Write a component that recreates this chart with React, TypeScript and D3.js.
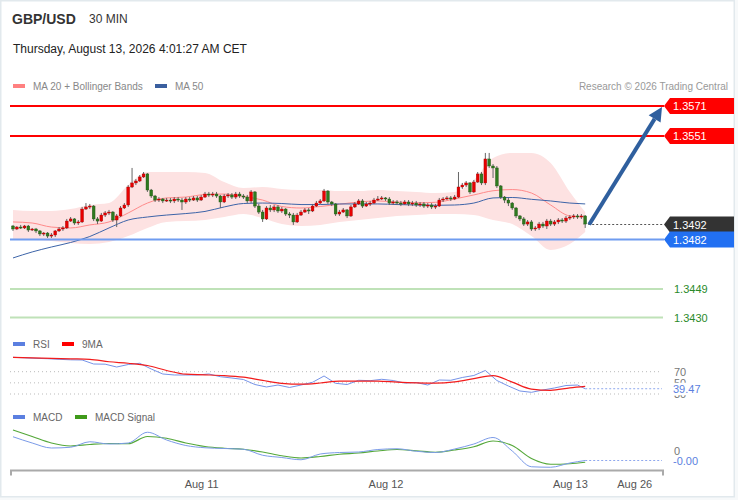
import { useEffect, useRef } from "react";
import * as d3 from "d3";

// GBP/USD 30 min candles (open = previous close)
const firstOpen = 1.3491;
const closes = [
  1.3489, 1.34903, 1.34897, 1.3491, 1.34883, 1.3489, 1.34877, 1.34857, 1.34863, 1.34843,
  1.3485, 1.34877, 1.3489, 1.34897, 1.34943, 1.34957, 1.3493, 1.34937, 1.35023, 1.35037,
  1.35043, 1.34957, 1.34943, 1.34983, 1.34997, 1.35003, 1.3495, 1.34977, 1.3503, 1.3505,
  1.3517, 1.35197, 1.3521, 1.35237, 1.35257, 1.3515, 1.3511, 1.35083, 1.3509, 1.35077,
  1.35083, 1.35077, 1.3509, 1.35083, 1.3507, 1.3509, 1.35083, 1.35097, 1.35083, 1.35103,
  1.35123, 1.35117, 1.35123, 1.3511, 1.3507, 1.3511, 1.35117, 1.35103, 1.35123, 1.3511,
  1.35103, 1.35077, 1.35137, 1.35043, 1.35003, 1.34957, 1.3503, 1.35017, 1.35037, 1.3501,
  1.35023, 1.3499, 1.34983, 1.34937, 1.34983, 1.35003, 1.35017, 1.3501, 1.35043, 1.35063,
  1.35077, 1.35143, 1.3507, 1.35057, 1.3499, 1.35003, 1.35017, 1.34977, 1.35037, 1.35057,
  1.35077, 1.35043, 1.35057, 1.35063, 1.35083, 1.3509, 1.35097, 1.3509, 1.35063, 1.3507,
  1.35063, 1.35057, 1.3507, 1.35057, 1.35063, 1.3505, 1.35057, 1.35043, 1.3505, 1.35037,
  1.35043, 1.35083, 1.3509, 1.35097, 1.3509, 1.35103, 1.3517, 1.35183, 1.35197, 1.35137,
  1.35203, 1.35257, 1.35197, 1.35357, 1.3531, 1.35297, 1.35177, 1.35103, 1.35083, 1.35063,
  1.3503, 1.34977, 1.34957, 1.34923, 1.34937, 1.3489, 1.34897, 1.34923, 1.3491, 1.34943,
  1.34923, 1.34937, 1.3495, 1.34943, 1.34963, 1.3497, 1.34977, 1.3497, 1.34977, 1.34923,
];
const highs = [
  1.34917, 1.3491, 1.34917, 1.34917, 1.34917, 1.34897, 1.34897, 1.34883, 1.3487, 1.3487,
  1.34863, 1.34883, 1.34903, 1.3491, 1.34957, 1.3497, 1.34963, 1.3495, 1.35037, 1.35063,
  1.35057, 1.3505, 1.3497, 1.34997, 1.3501, 1.35017, 1.3501, 1.3499, 1.35043, 1.35063,
  1.35183, 1.35297, 1.35223, 1.3525, 1.3527, 1.35263, 1.35157, 1.35117, 1.35103, 1.35097,
  1.35097, 1.35097, 1.35103, 1.35103, 1.35097, 1.35103, 1.35103, 1.3511, 1.3511, 1.35117,
  1.35137, 1.35137, 1.35137, 1.35137, 1.35117, 1.35123, 1.3513, 1.3513, 1.35137, 1.35137,
  1.35123, 1.35117, 1.3515, 1.35143, 1.35057, 1.35017, 1.35043, 1.3505, 1.3505, 1.3505,
  1.35037, 1.3503, 1.35003, 1.34997, 1.34997, 1.35017, 1.3503, 1.3503, 1.35057, 1.35077,
  1.3509, 1.35157, 1.3515, 1.35077, 1.35063, 1.35017, 1.3503, 1.35023, 1.3505, 1.3507,
  1.3509, 1.3509, 1.3507, 1.35077, 1.35097, 1.3511, 1.3511, 1.35103, 1.35103, 1.35083,
  1.35083, 1.35077, 1.35083, 1.35083, 1.35077, 1.35077, 1.3507, 1.3507, 1.35063, 1.35063,
  1.35057, 1.35097, 1.35103, 1.3511, 1.3511, 1.35117, 1.3527, 1.35197, 1.3521, 1.35203,
  1.35217, 1.3527, 1.3527, 1.35397, 1.35397, 1.35323, 1.3531, 1.35183, 1.3511, 1.35097,
  1.3507, 1.35037, 1.34983, 1.3497, 1.3495, 1.3495, 1.3491, 1.34937, 1.34937, 1.34957,
  1.34957, 1.3495, 1.34963, 1.34963, 1.34977, 1.34983, 1.3499, 1.3499, 1.3499, 1.34983,
];
const lows = [
  1.34877, 1.34883, 1.3489, 1.3489, 1.3487, 1.34877, 1.34863, 1.34843, 1.34843, 1.3483,
  1.3483, 1.34837, 1.3487, 1.34877, 1.3489, 1.34937, 1.34917, 1.34917, 1.3493, 1.35017,
  1.35023, 1.34943, 1.34923, 1.34937, 1.3497, 1.34983, 1.34937, 1.34903, 1.3497, 1.35023,
  1.35037, 1.35163, 1.35183, 1.35203, 1.3523, 1.35137, 1.35097, 1.3507, 1.3507, 1.35063,
  1.3507, 1.35063, 1.35063, 1.3507, 1.35017, 1.35057, 1.3507, 1.35077, 1.3507, 1.35077,
  1.35097, 1.35103, 1.35103, 1.35097, 1.3503, 1.35063, 1.35097, 1.3509, 1.3509, 1.35097,
  1.3509, 1.35063, 1.35063, 1.3503, 1.3499, 1.34937, 1.3495, 1.35003, 1.35003, 1.34997,
  1.34997, 1.34977, 1.34963, 1.34917, 1.3493, 1.34977, 1.34997, 1.3499, 1.35003, 1.35037,
  1.35057, 1.3507, 1.35057, 1.35043, 1.34977, 1.34977, 1.34997, 1.34963, 1.3497, 1.3503,
  1.3505, 1.3503, 1.35037, 1.35043, 1.35057, 1.35077, 1.35083, 1.35077, 1.3505, 1.3505,
  1.3505, 1.35043, 1.3505, 1.35043, 1.35043, 1.35037, 1.35037, 1.3503, 1.3503, 1.35023,
  1.35023, 1.35037, 1.3507, 1.35083, 1.35077, 1.35083, 1.35097, 1.35157, 1.3517, 1.35123,
  1.3513, 1.35197, 1.35183, 1.35183, 1.35297, 1.3523, 1.35163, 1.3509, 1.35063, 1.35043,
  1.35017, 1.34963, 1.34943, 1.3491, 1.3491, 1.34877, 1.34877, 1.34883, 1.34897, 1.3489,
  1.3491, 1.3491, 1.34923, 1.3493, 1.3493, 1.3495, 1.34957, 1.34957, 1.34957, 1.34897,
];

// indicators read every 5th candle (plus the last one)
const ma20 = [
  1.34937, 1.3493, 1.34903, 1.34897, 1.34917, 1.34937, 1.34997, 1.35063, 1.35097, 1.35103,
  1.3512, 1.35123, 1.35107, 1.35083, 1.3504, 1.3503, 1.3504, 1.35055, 1.3507, 1.35077,
  1.3507, 1.35065, 1.35068, 1.3509, 1.35117, 1.35145, 1.35153, 1.3513, 1.3505, 1.34977, 1.3497,
];
const ma50 = [
  1.34697, 1.34737, 1.3477, 1.348, 1.3484, 1.34897, 1.3495, 1.3497, 1.34983, 1.34993,
  1.35007, 1.35037, 1.3506, 1.35063, 1.3506, 1.35053, 1.35053, 1.35057, 1.35057, 1.35057,
  1.35053, 1.3505, 1.35048, 1.3505, 1.35063, 1.35097, 1.351, 1.35088, 1.35077, 1.35063, 1.35057,
];
const bandUpper = [
  1.35017, 1.3501, 1.3501, 1.35023, 1.3505, 1.35063, 1.35183, 1.3527, 1.3527, 1.3527,
  1.35263, 1.35203, 1.35163, 1.3517, 1.35157, 1.3515, 1.3515, 1.35143, 1.35143, 1.3515,
  1.35143, 1.35137, 1.3513, 1.35137, 1.35217, 1.35363, 1.35397, 1.35397, 1.3533, 1.35137, 1.35003,
];
const bandLower = [
  1.34817, 1.34817, 1.3481, 1.34797, 1.3479, 1.34803, 1.34843, 1.34897, 1.34937, 1.34943,
  1.3495, 1.3497, 1.3499, 1.34963, 1.34923, 1.3491, 1.34917, 1.34937, 1.3495, 1.34963,
  1.34977, 1.34983, 1.3499, 1.3499, 1.34983, 1.3495, 1.34923, 1.34843, 1.3475, 1.3479, 1.3487,
];
const rsiMa = [
  95.8, 94.9, 94.0, 93.1, 92.2, 87.8, 85.2, 81.1, 72.2, 65.5,
  64.4, 63.0, 60.1, 54.4, 49.2, 47.6, 49.7, 53.1, 53.0, 53.0,
  51.3, 50.1, 49.6, 51.9, 57.6, 63.0, 51.3, 38.8, 36.6, 41.1, 43.8,
];
const macd = [
  0.00057, 0.00032, 0.00012, 0.00015, 0.00037, 0.00028, 0.00032, 0.00075, 0.00044, 0.00022,
  0.00013, 0.0001, 0.00007, -0.00017, -0.00026, -0.00035, -0.00012, -0.00006, -0.00004, 0.00006,
  0.00009, -0.00001, -0.00006, 0.00008, 0.00028, 0.00054, 0.0, -0.00063, -0.00065, -0.00048, -0.00038,
];
const macdSignal = [
  0.00084, 0.00058, 0.00032, 0.0002, 0.00026, 0.0003, 0.00029, 0.00058, 0.00051, 0.00032,
  0.00018, 0.00011, 0.00007, -0.00004, -0.00019, -0.00028, -0.00022, -0.00013, -0.00008, 0.0,
  0.00006, 0.00001, -0.00005, 0.00004, 0.00017, 0.0004, 0.00022, -0.0003, -0.00053, -0.00051, -0.00045,
];
// RSI read every 3rd candle (plus the last one)
const rsi = [
  95.8, 94.9, 94.0, 93.3, 92.2, 91.3, 91.0, 83.8, 83.5, 78.4,
  82.9, 85.1, 74.8, 65.9, 64.1, 64.1, 64.1, 65.9, 61.0, 58.7,
  56.0, 47.0, 42.6, 46.1, 41.7, 46.1, 51.0, 62.3, 49.2, 47.0,
  54.6, 53.9, 56.4, 54.2, 49.7, 50.6, 46.1, 55.1, 54.6, 59.6,
  63.2, 72.2, 54.2, 44.3, 35.4, 33.0, 37.2, 40.8, 45.2, 46.1,
  39.47,
];

const resistances = [1.3571, 1.3551];
const supports = [1.3449, 1.343];
const pivot = 1.3482;
const lastPrice = 1.3492;
const rsiLevels = [70, 50, 30];
const axisDates = ["2026-08-11", "2026-08-12", "2026-08-13", "2026-08-26"];

const FONT = "'Liberation Sans', Arial, sans-serif";

export default function App() {
  const svgRef = useRef<SVGSVGElement>(null);

  useEffect(() => {
    const svg = d3.select(svgRef.current);
    svg.selectAll("*").remove();
    svg.attr("font-family", FONT);

    const n = closes.length;
    const t0 = new Date(2026, 7, 9, 23, 30);
    const timeAt = (i: number) => new Date(t0.getTime() + i * 30 * 60 * 1000);
    const idx5 = [...d3.range(0, n, 5), n - 1];
    const idx3 = [...d3.range(0, n, 3), n - 1];

    const x = d3
      .scaleTime()
      .domain([t0, timeAt(n - 1), new Date(2026, 7, 26)])
      .range([13, 585.2, 634.2]);
    const y = d3.scaleLinear().domain([1.343, 1.3571]).range([317.5, 106]);
    const yR = d3.scaleLinear().domain([30, 70]).range([394, 371.7]);
    const yM = d3.scaleLinear().domain([-0.001, 0.001]).range([476, 426]);
    const left = 10;
    const right = 664;
    const fmt = d3.format(".4f");

    // card
    svg
      .append("rect")
      .attr("x", 0.75)
      .attr("y", 0.75)
      .attr("width", 733.5)
      .attr("height", 496)
      .attr("fill", "#fff")
      .attr("stroke", "#e2e9ed")
      .attr("stroke-width", 1.5);

    // header
    svg.append("text").attr("x", 12).attr("y", 24).attr("font-size", 14).attr("font-weight", "bold").attr("fill", "#333").text("GBP/USD");
    svg.append("text").attr("x", 89).attr("y", 23).attr("font-size", 12).attr("fill", "#333").text("30 MIN");
    svg.append("text").attr("x", 13).attr("y", 53).attr("font-size", 12).attr("fill", "#222").text("Thursday, August 13, 2026 4:01:27 AM CET");

    const legendItem = (lx: number, ly: number, color: string, label: string) => {
      svg.append("rect").attr("x", lx).attr("y", ly - 6).attr("width", 12).attr("height", 4).attr("fill", color);
      svg.append("text").attr("x", lx + 20).attr("y", ly).attr("font-size", 10).attr("fill", "#888").text(label);
    };
    legendItem(13, 90, "#ff8080", "MA 20 + Bollinger Bands");
    legendItem(155, 90, "#3a5f9f", "MA 50");
    svg.append("text").attr("x", 728).attr("y", 90).attr("text-anchor", "end").attr("font-size", 10).attr("fill", "#999").text("Research © 2026 Trading Central");

    // bollinger band + moving averages
    const band = d3
      .area<number>()
      .x((_, k) => x(timeAt(idx5[k])))
      .y0((_, k) => y(bandLower[k]))
      .y1((d) => y(d))
      .curve(d3.curveMonotoneX);
    svg.append("path").datum(bandUpper).attr("d", band).attr("fill", "#fde2e2");

    const priceLine = d3
      .line<number>()
      .x((_, k) => x(timeAt(idx5[k])))
      .y((d) => y(d))
      .curve(d3.curveMonotoneX);
    svg.append("path").datum(ma20).attr("d", priceLine).attr("fill", "none").attr("stroke", "#ff8a8a").attr("stroke-width", 1);
    svg.append("path").datum(ma50).attr("d", priceLine).attr("fill", "none").attr("stroke", "#3d64a8").attr("stroke-width", 1);

    // level lines
    resistances.forEach((v) => {
      svg.append("line").attr("x1", left).attr("x2", right).attr("y1", y(v)).attr("y2", y(v)).attr("stroke", "#f00").attr("stroke-width", 2);
    });
    svg.append("line").attr("x1", left).attr("x2", right).attr("y1", y(pivot)).attr("y2", y(pivot)).attr("stroke", "#6f9cf0").attr("stroke-width", 2);
    supports.forEach((v) => {
      svg.append("line").attr("x1", left).attr("x2", right - 1).attr("y1", y(v)).attr("y2", y(v)).attr("stroke", "#bfe2b8").attr("stroke-width", 2);
      svg.append("text").attr("x", right + 10).attr("y", y(v) + 4).attr("font-size", 11).attr("fill", "#2a8a2a").text(fmt(v));
    });

    // candles
    const candles = closes.map((c, i) => ({
      t: timeAt(i),
      o: i === 0 ? firstOpen : closes[i - 1],
      h: highs[i],
      l: lows[i],
      c,
    }));
    const cg = svg.append("g").selectAll("g").data(candles).join("g");
    cg.append("line")
      .attr("x1", (d) => x(d.t))
      .attr("x2", (d) => x(d.t))
      .attr("y1", (d) => y(d.h))
      .attr("y2", (d) => y(d.l))
      .attr("stroke", "#666")
      .attr("stroke-width", 1);
    cg.append("rect")
      .attr("x", (d) => x(d.t) - 1.4)
      .attr("width", 2.8)
      .attr("y", (d) => y(Math.max(d.o, d.c)))
      .attr("height", (d) => Math.max(1, Math.abs(y(d.o) - y(d.c))))
      .attr("fill", (d) => (d.c >= d.o ? "#e80000" : "#2f7a1f"))
      .attr("stroke", (d) => (d.c >= d.o ? "#a30000" : "#1e5512"))
      .attr("stroke-width", 0.4);

    // current price dotted line
    const lastX = x(timeAt(n - 1));
    svg.append("line").attr("x1", lastX + 3).attr("x2", right).attr("y1", y(lastPrice)).attr("y2", y(lastPrice)).attr("stroke", "#555").attr("stroke-dasharray", "2,2");

    // price tags
    const tag = (v: number, fill: string) => {
      const yy = y(v);
      svg.append("path").attr("d", `M${right},${yy} L${right + 6},${yy - 8} H734 V${yy + 8} H${right + 6} Z`).attr("fill", fill);
      svg.append("text").attr("x", right + 9).attr("y", yy + 4).attr("font-size", 11).attr("fill", "#fff").text(fmt(v));
    };
    resistances.forEach((v) => tag(v, "#ff0000"));
    tag(lastPrice, "#333333");
    tag(pivot, "#2270f2");

    // forecast arrow
    const ax1 = lastX + 4;
    const ay1 = y(lastPrice);
    const ax2 = right - 2;
    const ay2 = y(resistances[0]) + 1;
    const ang = Math.atan2(ay2 - ay1, ax2 - ax1);
    const head = 14;
    const bx = ax2 - head * Math.cos(ang);
    const by = ay2 - head * Math.sin(ang);
    svg.append("line").attr("x1", ax1).attr("y1", ay1).attr("x2", bx).attr("y2", by).attr("stroke", "#2f5f9e").attr("stroke-width", 4);
    svg
      .append("path")
      .attr("d", `M${ax2},${ay2} L${bx - 7 * Math.sin(ang)},${by + 7 * Math.cos(ang)} L${bx + 7 * Math.sin(ang)},${by - 7 * Math.cos(ang)} Z`)
      .attr("fill", "#2f5f9e");

    // RSI panel
    legendItem(13, 348, "#5b7fe0", "RSI");
    legendItem(62, 348, "#f00", "9MA");
    svg.selectAll("text").filter(function () {
      const t = d3.select(this).text();
      return t === "RSI" || t === "9MA";
    }).attr("fill", "#666");
    rsiLevels.forEach((v) => {
      svg.append("line").attr("x1", left).attr("x2", right - 2).attr("y1", yR(v)).attr("y2", yR(v)).attr("stroke", "#bbb").attr("stroke-dasharray", "1,3");
      svg.append("text").attr("x", right + 10).attr("y", yR(v) + 4).attr("font-size", 11).attr("fill", "#777").text(v);
    });
    const rsiLine = d3
      .line<number>()
      .x((_, k) => x(timeAt(idx3[k])))
      .y((d) => yR(d));
    svg.append("path").datum(rsi).attr("d", rsiLine).attr("fill", "none").attr("stroke", "#7693e8").attr("stroke-width", 1);
    const rsiMaLine = d3
      .line<number>()
      .x((_, k) => x(timeAt(idx5[k])))
      .y((d) => yR(d))
      .curve(d3.curveMonotoneX);
    svg.append("path").datum(rsiMa).attr("d", rsiMaLine).attr("fill", "none").attr("stroke", "#f21c1c").attr("stroke-width", 1.2);
    const rsiLast = rsi[rsi.length - 1];
    svg.append("line").attr("x1", lastX).attr("x2", right - 2).attr("y1", yR(rsiLast)).attr("y2", yR(rsiLast)).attr("stroke", "#8fa8ee").attr("stroke-dasharray", "2,2");
    svg.append("rect").attr("x", right + 8).attr("y", yR(rsiLast) - 6).attr("width", 34).attr("height", 12.5).attr("fill", "#fff");
    svg.append("text").attr("x", right + 9).attr("y", yR(rsiLast) + 4.5).attr("font-size", 11).attr("fill", "#5b7fe0").text(rsiLast.toFixed(2));

    // MACD panel
    legendItem(13, 421, "#5b7fe0", "MACD");
    legendItem(75, 421, "#3f9a1a", "MACD Signal");
    svg.selectAll("text").filter(function () {
      const t = d3.select(this).text();
      return t === "MACD" || t === "MACD Signal";
    }).attr("fill", "#666");
    svg.append("text").attr("x", right + 10).attr("y", yM(0) + 4).attr("font-size", 11).attr("fill", "#777").text("0");
    const macdLine = d3
      .line<number>()
      .x((_, k) => x(timeAt(idx5[k])))
      .y((d) => yM(d))
      .curve(d3.curveMonotoneX);
    svg.append("path").datum(macdSignal).attr("d", macdLine).attr("fill", "none").attr("stroke", "#55a83a").attr("stroke-width", 1.2);
    svg.append("path").datum(macd).attr("d", macdLine).attr("fill", "none").attr("stroke", "#7b9be8").attr("stroke-width", 1);
    const macdLast = macd[macd.length - 1];
    svg.append("line").attr("x1", lastX).attr("x2", right - 2).attr("y1", yM(macdLast)).attr("y2", yM(macdLast)).attr("stroke", "#8fa8ee").attr("stroke-dasharray", "2,2");
    svg.append("rect").attr("x", right + 8).attr("y", yM(macdLast) - 5).attr("width", 34).attr("height", 12).attr("fill", "#fff");
    svg.append("text").attr("x", right + 9).attr("y", yM(macdLast) + 4.5).attr("font-size", 11).attr("fill", "#5b7fe0").text(macdLast.toFixed(2));

    // time axis
    const axisY = 470.5;
    svg.append("path").attr("d", `M11,${axisY + 5} V${axisY} H663 V${axisY + 5}`).attr("fill", "none").attr("stroke", "#aaa").attr("stroke-width", 2);
    const parse = d3.timeParse("%Y-%m-%d");
    const ax = svg
      .append("g")
      .attr("transform", `translate(0,${axisY})`)
      .call(
        d3
          .axisBottom(x)
          .tickValues(axisDates.map((d) => parse(d) as Date))
          .tickFormat((d) => d3.timeFormat("%b %d")(d as Date))
          .tickSize(0)
          .tickPadding(10),
      );
    ax.select(".domain").remove();
    ax.selectAll("text").attr("font-family", FONT).attr("font-size", 11).attr("fill", "#555");
  }, []);

  return (
    <svg
      ref={svgRef}
      width={738}
      height={500}
      style={{ position: "absolute", left: 0, top: 0, background: "#f7f9fa" }}
    />
  );
}
